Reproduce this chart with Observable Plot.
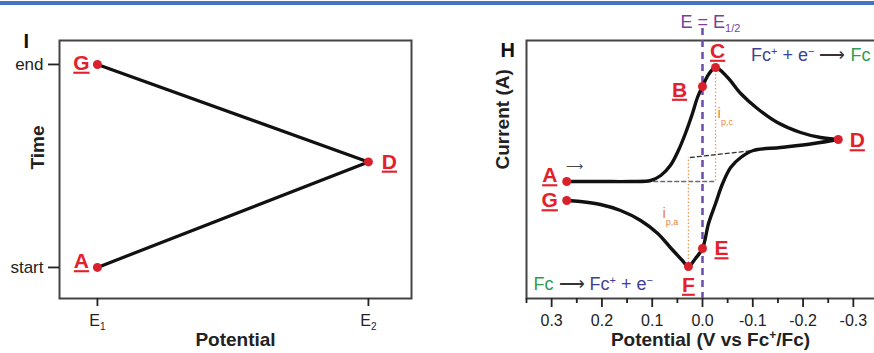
<!DOCTYPE html>
<html><head><meta charset="utf-8">
<script src="https://cdn.jsdelivr.net/npm/d3@7"></script>
<script src="https://cdn.jsdelivr.net/npm/@observablehq/plot@0.6"></script>
<style>
html,body{margin:0;padding:0;background:#fff;overflow:hidden;}
#wrap{position:relative;width:874px;height:353px;overflow:hidden;background:#fff;}
#bar{position:absolute;left:0;top:1px;width:874px;height:4px;background:#4472c4;z-index:2;}
#left{position:absolute;left:0;top:0;}
#right{position:absolute;left:440px;top:0;}
</style></head><body>
<div id="wrap"><div id="bar"></div><div id="left"></div><div id="right"></div></div>
<script>
// ---------- data: panel I (potential sweep vs time) ----------
const sweepLabels = ["A", "D", "G"];
const sweepPotential = [0, 1, 0];      // 0 = E1, 1 = E2
const sweepTime = [0, 0.52, 1];        // 0 = start, 1 = end
const potentialTicks = [0, 1];
const potentialTickLabels = ["E1", "E2"];
const timeTicks = [0, 1];
const timeTickLabels = ["start", "end"];

// ---------- data: panel H (cyclic voltammogram) ----------
const fwdE = [0.270, 0.203, 0.143, 0.103, 0.083, 0.064, 0.048, 0.034, 0.020, 0.010, 0.000, -0.012, -0.026, -0.050, -0.076, -0.109, -0.149, -0.195, -0.235, -0.270];
const fwdI = [0, 0, 0, 0.1, 0.6, 1.6, 3.1, 4.8, 6.8, 8.4, 9.5, 10.7, 11.4, 10.4, 8.8, 7.3, 5.9, 4.9, 4.4, 4.2];
const revE = [-0.270, -0.221, -0.155, -0.101, -0.076, -0.056, -0.040, -0.026, -0.012, 0.000, 0.014, 0.028, 0.040, 0.064, 0.089, 0.123, 0.163, 0.203, 0.243, 0.270];
const revI = [4.2, 3.8, 3.4, 3.1, 2.4, 1.4, -0.2, -2.2, -4.2, -6.7, -7.7, -8.5, -7.9, -6.6, -5.2, -3.9, -2.9, -2.3, -2.0, -1.9];
const cvLabels = ["A", "B", "C", "D", "E", "F", "G"];
const cvE = [0.27, 0.0, -0.026, -0.27, 0.0, 0.028, 0.27];
const cvI = [0, 9.5, 11.4, 4.2, -6.7, -8.5, -1.9];
const cathBaseE = [0.097, -0.026];
const cathBaseI = [0, 0];
const anodBaseE = [0.024, -0.101];
const anodBaseI = [2.4, 3.1];
const majorTicks = [0.3, 0.2, 0.1, 0, -0.1, -0.2, -0.3];
const minorTicks = [0.35, 0.25, 0.15, 0.05, -0.05, -0.15, -0.25, -0.35];
const halfWaveE = 0;

// ---------- styling ----------
const FONT = "'Liberation Sans', Arial, Helvetica, sans-serif";
const RED = "#e3202c", DOT = "#d8212d", PURPLE = "#6a4ba8", PURPLE_TXT = "#7b3f9a";
const NAVY = "#3f3f98", GREEN = "#2e9b50", ORANGE = "#ef9a5a", ORANGE_TXT = "#e8853c";
const leftOff = {A: [-16, -6], D: [21, 0], G: [-16, -1.5]};
const cvOff = {A: [-17, -6], B: [-23, 3.5], C: [2, -16.5], D: [19, 1], E: [19, 0], F: [0, 18.5], G: [-17, 0]};
const idx = n => d3.range(n);

function labelMarks(names, xs, ys, off) {
  return names.map((lab, i) => Plot.text([i], {
    x: j => xs[j], y: j => ys[j], text: j => names[j],
    dx: off[lab][0], dy: off[lab][1], fill: RED, fontSize: 21, fontWeight: "bold",
    textAnchor: "middle", lineAnchor: "middle", className: "ptlabel"
  }));
}

// ---------- panel I ----------
const left = Plot.plot({
  width: 440, height: 353,
  marginTop: 40, marginBottom: 55, marginLeft: 59, marginRight: 29,
  x: {domain: [-0.140, 1.159], axis: null},
  y: {domain: [-0.153, 1.118], axis: null},
  style: {fontFamily: FONT, fontSize: "17px", background: "transparent", overflow: "visible", maxWidth: "none", color: "#222"},
  marks: [
    Plot.frame({stroke: "#444", strokeWidth: 2}),
    Plot.axisX(potentialTicks, {tickSize: 8, tickPadding: 8, strokeWidth: 1.8, label: null, className: "eaxis", fontSize: 16,
      tickFormat: d => potentialTickLabels[potentialTicks.indexOf(d)]}),
    Plot.axisY(timeTicks, {tickSize: 11, tickPadding: 5, strokeWidth: 1.8, label: null,
      tickFormat: d => timeTickLabels[timeTicks.indexOf(d)]}),
    Plot.line(idx(3), {x: i => sweepPotential[i], y: i => sweepTime[i], stroke: "#111", strokeWidth: 3.2}),
    Plot.dot(idx(3), {x: i => sweepPotential[i], y: i => sweepTime[i], r: 4.5, fill: DOT}),
    ...labelMarks(sweepLabels, sweepPotential, sweepTime, leftOff),
    Plot.text(["Time"], {frameAnchor: "left", rotate: -90, dx: -22, fontSize: 19, fontWeight: "bold", fill: "#222"}),
    Plot.text(["Potential"], {frameAnchor: "bottom", dy: 47, fontSize: 19, fontWeight: "bold", fill: "#222"}),
    Plot.text(["I"], {frameAnchor: "top-left", dx: -36, dy: 1, fontSize: 20, fontWeight: "bold", fill: "#111", lineAnchor: "middle"})
  ]
});
document.getElementById("left").appendChild(left);

// ---------- panel H ----------
const yDom = [-11.7, 14.1];
const right = Plot.plot({
  width: 440, height: 353,
  marginTop: 40, marginBottom: 55, marginLeft: 86, marginRight: 2,
  x: {domain: [0.35, -0.35], axis: null},
  y: {domain: yDom, axis: null},
  style: {fontFamily: FONT, fontSize: "17px", background: "transparent", overflow: "visible", maxWidth: "none", color: "#222"},
  marks: [
    Plot.frame({stroke: "#444", strokeWidth: 2}),
    Plot.axisX(minorTicks, {tickSize: 5, strokeWidth: 1.8, label: null, tickFormat: () => "", className: "minor"}),
    Plot.axisX(majorTicks, {tickSize: 9, tickPadding: 7, strokeWidth: 1.8, label: null, fontSize: 16, tickFormat: d => d.toFixed(1)}),
    Plot.line(idx(2), {x: i => cathBaseE[i], y: i => cathBaseI[i], stroke: "#6a6a7a", strokeWidth: 1.3, strokeDasharray: "4,3"}),
    Plot.line(idx(2), {x: i => anodBaseE[i], y: i => anodBaseI[i], stroke: "#333", strokeWidth: 1.3, strokeDasharray: "4,3"}),
    Plot.ruleX([2], {x: i => cvE[i], y1: i => cvI[i], y2: 0, stroke: ORANGE, strokeWidth: 1.3, strokeDasharray: "1.5,2"}),
    Plot.ruleX([5], {x: i => cvE[i], y1: i => cvI[i], y2: anodBaseI[0], stroke: ORANGE, strokeWidth: 1.3, strokeDasharray: "1.5,2"}),
    Plot.ruleX([halfWaveE], {x: d => d, y1: 15.3, y2: yDom[0], stroke: PURPLE, strokeWidth: 2.5, strokeDasharray: "7,5"}),
    Plot.line(idx(fwdE.length), {x: i => fwdE[i], y: i => fwdI[i], curve: "catmull-rom", stroke: "#111", strokeWidth: 3.4}),
    Plot.line(idx(revE.length), {x: i => revE[i], y: i => revI[i], curve: "catmull-rom", stroke: "#111", strokeWidth: 3.4}),
    Plot.dot(idx(7), {x: i => cvE[i], y: i => cvI[i], r: 4.5, fill: DOT}),
    ...labelMarks(cvLabels, cvE, cvI, cvOff),
    Plot.text([2], {x: i => cvE[i], y: i => cvI[i] / 2, text: () => "ipc", dx: 2, dy: -11, textAnchor: "start", lineAnchor: "middle", fill: ORANGE_TXT, fontSize: 15, className: "ipc"}),
    Plot.text([5], {x: i => cvE[i], y: i => (cvI[i] + anodBaseI[0]) / 2, text: () => "ipa", dx: -26, dy: 1.5, textAnchor: "start", lineAnchor: "middle", fill: ORANGE_TXT, fontSize: 15, className: "ipa"}),
    Plot.text([0], {x: i => cvE[i], y: i => cvI[i], text: () => "⟶", dx: -1, dy: -15, textAnchor: "start", lineAnchor: "middle", fill: "#444", fontSize: 12}),
    Plot.text(["ehalf"], {x: () => halfWaveE, frameAnchor: "top", dx: 8, dy: -18, lineAnchor: "middle", fill: PURPLE_TXT, fontSize: 18, className: "ehalf"}),
    Plot.text(["red"], {frameAnchor: "top-right", dx: -8, dy: 15, textAnchor: "end", lineAnchor: "middle", fontSize: 18, className: "rxred"}),
    Plot.text(["ox"], {frameAnchor: "bottom-left", dx: 7, dy: -14, textAnchor: "start", lineAnchor: "middle", fontSize: 18, className: "rxox"}),
    Plot.text(["Current (A)"], {frameAnchor: "left", rotate: -90, dx: -24, fontSize: 19, fontWeight: "bold", fill: "#222"}),
    Plot.text(["pot"], {frameAnchor: "bottom", dx: 8, dy: 47, fontSize: 19, fontWeight: "bold", fill: "#222", className: "potlab"}),
    Plot.text(["H"], {frameAnchor: "top-left", dx: -26, dy: 10, fontSize: 20, fontWeight: "bold", fill: "#111", lineAnchor: "middle"})
  ]
});
document.getElementById("right").appendChild(right);

// ---------- rich text (sub/superscripts, colours, underlines) ----------
function rich(sel, parts) {
  d3.selectAll(sel).each(function () {
    const t = d3.select(this);
    t.text(null);
    let prev = 0;
    parts.forEach(p => {
      const s = t.append("tspan").text(p.t);
      const shift = p.shift || 0;
      if (shift !== prev) s.attr("dy", shift - prev);
      prev = shift;
      if (p.fill) s.attr("fill", p.fill);
      if (p.size) s.attr("font-size", p.size);
      if (p.weight) s.attr("font-weight", p.weight);
    });
  });
}
d3.select(right).selectAll(".minor text").remove();
d3.selectAll(".ptlabel text").attr("text-decoration", "underline");
d3.select(left).selectAll(".eaxis text").each(function () {
  const lab = d3.select(this).text();
  rich([this], [{t: lab.slice(0, 1)}, {t: lab.slice(1), size: 10, shift: 4}]);
});
rich(".ipc text", [{t: "i"}, {t: "p,c", size: 9, shift: 7}]);
rich(".ipa text", [{t: "i"}, {t: "p,a", size: 9, shift: 7}]);
rich(".ehalf text", [{t: "E = E"}, {t: "1/2", size: 11, shift: 4}]);
rich(".rxred text", [
  {t: "Fc", fill: NAVY}, {t: "+", fill: NAVY, size: 11, shift: -6},
  {t: " + e", fill: NAVY}, {t: "−", fill: NAVY, size: 11, shift: -6},
  {t: " ⟶ ", fill: "#333"}, {t: "Fc", fill: GREEN}
]);
rich(".rxox text", [
  {t: "Fc", fill: GREEN}, {t: " ⟶ ", fill: "#333"},
  {t: "Fc", fill: NAVY}, {t: "+", fill: NAVY, size: 11, shift: -6},
  {t: " + e", fill: NAVY}, {t: "−", fill: NAVY, size: 11, shift: -6}
]);
rich(".potlab text", [{t: "Potential (V vs Fc"}, {t: "+", size: 12, shift: -7}, {t: "/Fc)"}]);
</script></body></html>
